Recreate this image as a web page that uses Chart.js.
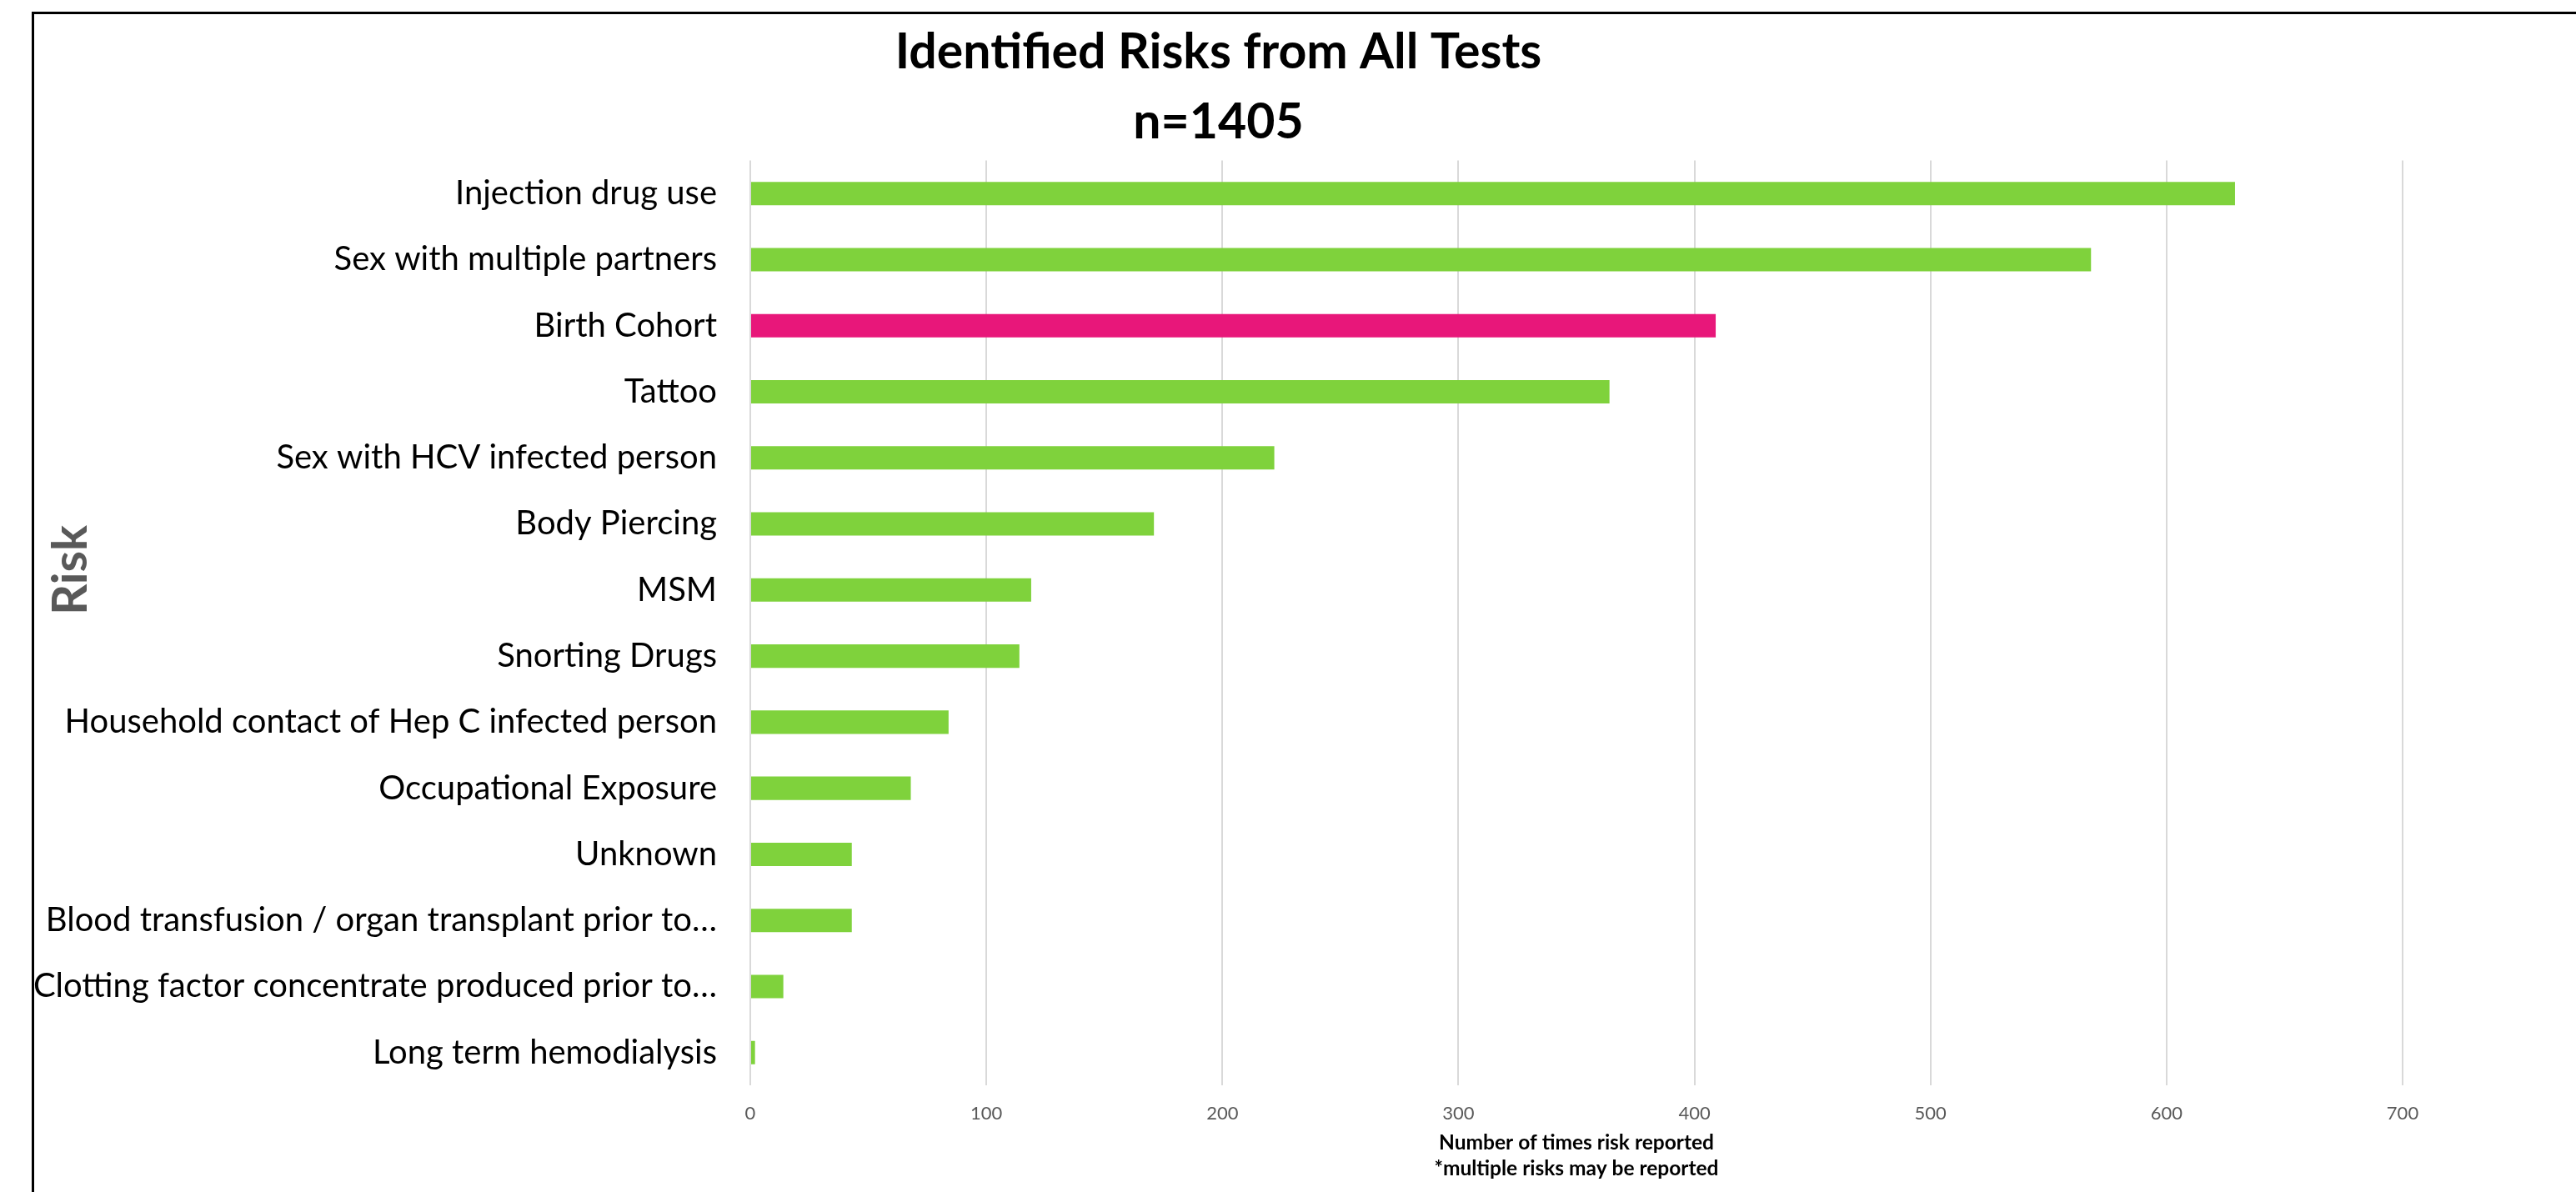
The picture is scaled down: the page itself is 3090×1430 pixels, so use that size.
<!DOCTYPE html>
<html>
<head>
<meta charset="utf-8">
<title>Identified Risks from All Tests</title>
<script src="https://cdn.jsdelivr.net/npm/chart.js@4.4.0/dist/chart.umd.min.js"></script>
<style>
    html, body { margin: 0; padding: 0; background: #ffffff; }
    body { width: 3090px; height: 1430px; position: relative; overflow: hidden; }
    .marco {
        position: absolute; left: 38px; top: 14px; right: 0; bottom: 0;
        border-top: 3px solid #000000; border-left: 3px solid #000000;
    }
    .contenedor { position: absolute; left: 41px; top: 17px; width: 3049px; height: 1413px; }
</style>
</head>
<body>
<div class="marco"></div>
<div class="contenedor"><canvas id="grafica1"></canvas></div>
<script>
// datos
const riesgos = [
    'Injection drug use',
    'Sex with multiple partners',
    'Birth Cohort',
    'Tattoo',
    'Sex with HCV infected person',
    'Body Piercing',
    'MSM',
    'Snorting Drugs',
    'Household contact of Hep C infected person',
    'Occupational Exposure',
    'Unknown',
    'Blood transfusion / organ transplant prior to\u2026',
    'Clotting factor concentrate produced prior to\u2026',
    'Long term hemodialysis'
];
const vecesReportado = [629, 568, 409, 364, 222, 171, 119, 114, 84, 68, 43, 43, 14, 2];
const ticksX = [0, 100, 200, 300, 400, 500, 600, 700];
const tituloGrafica = ['Identified Risks from All Tests', 'n=1405'];
const tituloX = ['Number of times risk reported', '*multiple risks may be reported'];
const tituloY = 'Risk';

const verde = 'rgb(127, 210, 60)';
const rosa = 'rgb(232, 23, 122)';

function main() {
    const ctx1 = document.getElementById('grafica1').getContext('2d');
    // Birth Cohort va en rosa, el resto verde
    const colores = riesgos.map(r => r === 'Birth Cohort' ? rosa : verde);

    const config = {
        type: 'bar',
        data: {
            labels: riesgos,
            datasets: [{
                data: vecesReportado,
                backgroundColor: colores,
                borderWidth: 0,
                categoryPercentage: 1,
                barPercentage: 0.354
            }]
        },
        options: {
            indexAxis: 'y',
            responsive: true,
            maintainAspectRatio: false,
            animation: { duration: 0 },
            layout: { padding: { left: 0, right: 208, top: 0, bottom: 12 } },
            plugins: {
                legend: { display: false },
                tooltip: { enabled: false },
                title: {
                    display: true,
                    text: tituloGrafica,
                    color: '#000000',
                    font: { family: 'Lato', size: 59, weight: 'bold', lineHeight: 1.42 },
                    padding: { top: 4, bottom: 4 }
                }
            },
            scales: {
                x: {
                    min: 0,
                    max: 700,
                    afterBuildTicks: axis => { axis.ticks = ticksX.map(v => ({ value: v })); },
                    grid: { color: '#d9d9d9', lineWidth: 2, drawTicks: false },
                    border: { display: false },
                    ticks: {
                        color: '#595959',
                        padding: 20,
                        font: { family: 'Lato', size: 22 }
                    },
                    title: {
                        display: true,
                        text: tituloX,
                        color: '#000000',
                        font: { family: 'Lato', size: 24.5, weight: 'bold', lineHeight: 1.27 },
                        // negativo: el titulo queda pegado a los ticks como en la imagen
                        padding: { top: -13, bottom: 0 }
                    }
                },
                y: {
                    // ancho fijo para que el eje empiece donde en la imagen (x=900)
                    afterFit: axis => { axis.width = 859; },
                    grid: { display: false, drawTicks: false },
                    border: { display: false },
                    ticks: {
                        color: '#000000',
                        padding: 40,
                        font: { family: 'Lato', size: 40 }
                    },
                    title: {
                        display: true,
                        // espacios delante para subir el texto un poco
                        text: '         ' + tituloY,
                        color: '#595959',
                        font: { family: 'Lato', size: 58, weight: 'bold', lineHeight: 1.2 },
                        padding: { top: 9, bottom: 0 }
                    }
                }
            }
        }
    };

    window.myChart1 = new Chart(ctx1, config);
}

document.addEventListener('DOMContentLoaded', function() {
    main();
});
</script>
</body>
</html>
